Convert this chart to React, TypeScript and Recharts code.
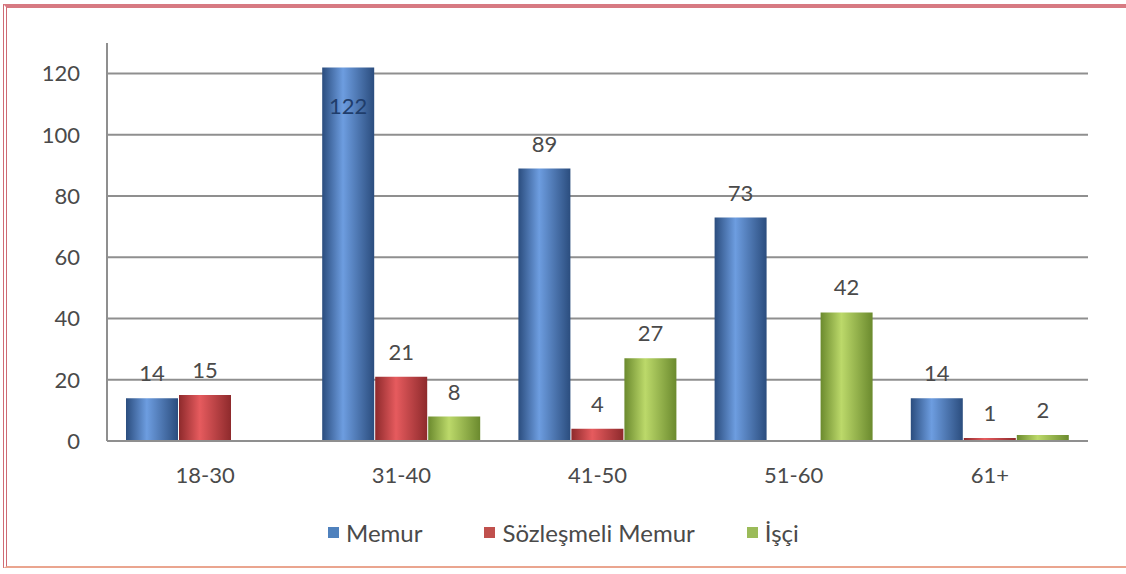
import React from "react"
import { BarChart, Bar, XAxis, YAxis, CartesianGrid, LabelList } from "recharts"

const categories = ["18-30", "31-40", "41-50", "51-60", "61+"]
const memur = [14, 122, 89, 73, 14]
const sozlesmeli = [15, 21, 4, 0, 1]
const isci = [0, 8, 27, 42, 2]
const yTicks = [0, 20, 40, 60, 80, 100, 120]

const SERIES = [
  { key: "memur", name: "Memur", color: "#4f81bd", dark: "#2b4d7e", light: "#6d9de0", gapAfter: 62 },
  { key: "sozlesmeli", name: "Sözleşmeli Memur", color: "#c0504d", dark: "#8e2a2c", light: "#e65b5e", gapAfter: 52 },
  { key: "isci", name: "İşçi", color: "#9bbb59", dark: "#6b8a2e", light: "#bcd96a", gapAfter: 0 },
]

const data = categories.map((c, i) => ({
  name: c,
  memur: memur[i],
  sozlesmeli: sozlesmeli[i],
  isci: isci[i],
}))

const FONT = "Lato, 'Open Sans', sans-serif"
const TEXT = "#4a4a4a"

// labels sit above the bar; the tallest one is drawn inside the bar like the original
const renderLabel = (props: any) => {
  const { x, y, width, value } = props
  if (!value) return null
  const inside = value > 115
  return (
    <text
      x={x + width / 2}
      y={inside ? y + 47 : y - 17}
      textAnchor="middle"
      fill={inside ? "#1f3d6b" : TEXT}
      fontSize={22}
      fontFamily={FONT}
    >
      {value}
    </text>
  )
}

export default function App() {
  return (
    <div
      style={{
        position: "absolute",
        left: 0,
        top: 0,
        width: 1126,
        height: 574,
        background: "#fff",
        overflow: "hidden",
      }}
    >
      {/* frame */}
      <div
        style={{
          position: "absolute",
          left: 3,
          top: 4,
          width: 1140,
          height: 564,
          borderTop: "4px solid #d77a82",
          borderLeft: "4px double #cf6b74",
          borderBottom: "2px solid #eaa58f",
          boxSizing: "border-box",
        }}
      />
      <BarChart
        width={1126}
        height={574}
        data={data}
        margin={{ top: 43, right: 38, left: 47, bottom: 83 }}
        barSize={52}
        barGap={1}
        style={{ position: "absolute", left: 0, top: 0 }}
      >
        <CartesianGrid vertical={false} horizontalValues={yTicks} stroke="#8f8f8f" strokeWidth={2} />
        <defs>
          {SERIES.map((s) => (
            <linearGradient key={s.key} id={`g-${s.key}`} x1="0" y1="0" x2="1" y2="0">
              <stop offset="0%" stopColor={s.dark} />
              <stop offset="40%" stopColor={s.light} />
              <stop offset="100%" stopColor={s.dark} />
            </linearGradient>
          ))}
        </defs>
        <XAxis
          dataKey="name"
          height={50}
          tickSize={0}
          tickMargin={26}
          stroke="#8f8f8f"
          strokeWidth={2}
          tick={{ fill: TEXT, fontSize: 22, fontFamily: FONT }}
        />
        <YAxis
          width={60}
          domain={[0, 130]}
          ticks={yTicks}
          tickSize={0}
          tickMargin={27}
          stroke="#8f8f8f"
          strokeWidth={2}
          tick={{ fill: TEXT, fontSize: 22, fontFamily: FONT }}
        />
        {SERIES.map((s) => (
          <Bar key={s.key} dataKey={s.key} name={s.name} fill={`url(#g-${s.key})`} isAnimationActive={false}>
            <LabelList dataKey={s.key} content={renderLabel} />
          </Bar>
        ))}
      </BarChart>
      {/* legend */}
      <div
        style={{
          position: "absolute",
          left: 328,
          top: 518,
          display: "flex",
          fontFamily: FONT,
          fontSize: 24,
          color: TEXT,
        }}
      >
        {SERIES.map((s) => (
          <div key={s.key} style={{ display: "flex", alignItems: "center", gap: 7, marginRight: s.gapAfter }}>
            <span style={{ width: 11, height: 11, background: s.color, display: "inline-block" }} />
            <span>{s.name}</span>
          </div>
        ))}
      </div>
    </div>
  )
}
